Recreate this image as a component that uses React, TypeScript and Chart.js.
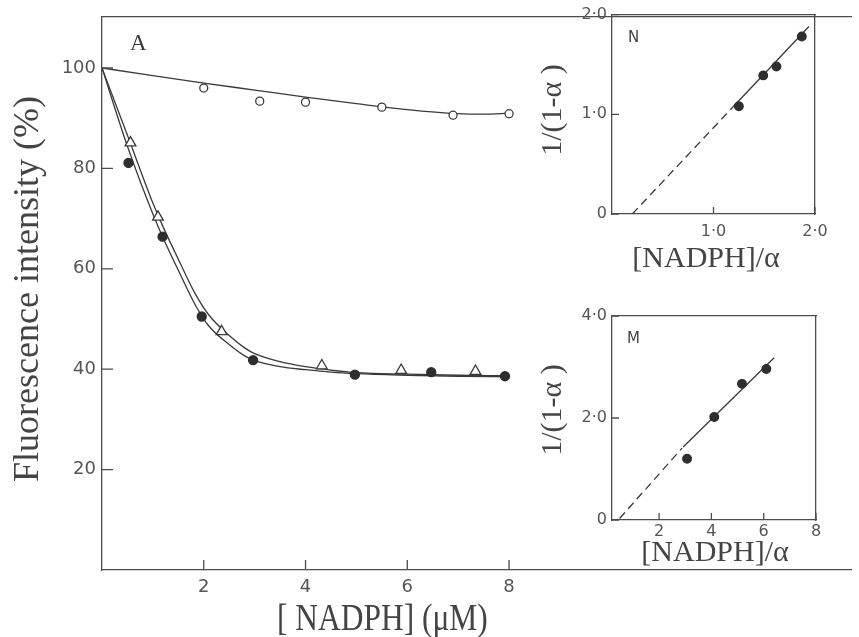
import React, { useEffect, useRef } from "react";
import { Chart, registerables } from "chart.js";

Chart.register(...registerables);

// ---- Panel A: fluorescence intensity vs [NADPH] ----
const mainXTicks = [2, 4, 6, 8];
const mainYTicks = [20, 40, 60, 80, 100];

// open circles and their fitted curve
const openX = [2.0, 3.1, 4.0, 5.5, 6.9, 8.0];
const openY = [96.0, 93.4, 93.2, 92.2, 90.6, 90.9];
const openFitX = [0, 1, 2, 3, 4, 5, 6, 7, 7.5, 8];
const openFitY = [100, 98.5, 97.0, 95.6, 94.2, 92.9, 91.7, 90.9, 90.8, 91.0];

// filled circles and their fitted curve
const filledX = [0.52, 1.19, 1.96, 2.97, 4.97, 6.47, 7.92];
const filledY = [81.1, 66.4, 50.5, 41.8, 38.9, 39.4, 38.6];
const filledFitX = [0, 0.5, 1.0, 1.19, 1.5, 1.85, 2.1, 2.5, 2.81, 3.0, 3.5, 4.0, 4.5, 5.0, 6.0, 7.0, 8.0];
const filledFitY = [100, 84.4, 70.9, 66.4, 59.7, 52.5, 48.6, 44.9, 42.6, 41.7, 40.5, 39.9, 39.4, 39.1, 38.8, 38.6, 38.5];

// open triangles and their fitted curve
const triX = [0.56, 1.1, 2.35, 4.32, 5.88, 7.34];
const triY = [85.1, 70.3, 47.5, 40.7, 39.8, 39.6];
const triFitX = [0, 0.5, 1.0, 1.19, 1.5, 1.85, 2.1, 2.5, 2.81, 3.0, 3.5, 4.0, 4.5, 5.0, 6.0, 7.0, 8.0];
const triFitY = [100, 86.6, 73.1, 68.6, 61.9, 54.7, 50.8, 46.7, 44.2, 43.1, 41.5, 40.5, 39.8, 39.3, 39.0, 38.8, 38.7];

// ---- Inset N: 1/(1-α) vs [NADPH]/α ----
const nXTicks = [1, 2];
const nYTicks = [0, 1, 2];
const nX = [1.25, 1.49, 1.62, 1.87];
const nY = [1.08, 1.39, 1.48, 1.78];
const nDashX = [0.2, 1.17];
const nDashY = [0.0, 1.05];
const nLineX = [1.17, 1.94];
const nLineY = [1.05, 1.88];

// ---- Inset M: 1/(1-α) vs [NADPH]/α ----
const mXTicks = [2, 4, 6, 8];
const mYTicks = [0, 2, 4];
const mX = [3.07, 4.11, 5.17, 6.1];
const mY = [1.2, 2.02, 2.67, 2.96];
const mDashX = [0.49, 2.88];
const mDashY = [0.03, 1.41];
const mLineX = [2.92, 6.4];
const mLineY = [1.43, 3.18];

const INK = "#3a3a3a";
const AXIS = "#4d4d4d";
const LABEL = "#555555";
const SERIF = "'Liberation Serif', 'Times New Roman', serif";
const SANS = "'DejaVu Sans', sans-serif";

const pts = (xs: number[], ys: number[]) => xs.map((x, i) => ({ x, y: ys[i] }));
const dotted = (v: number) => (v === 0 ? "0" : v.toFixed(1).replace(".", "\u00b7"));

type Caption = {
  text: string;
  x: number;
  y: number;
  font: string;
  align?: CanvasTextAlign;
  rotate?: boolean;
  sx?: number;
  color?: string;
};

// draws short tick marks pointing into the plot area
function inwardTicks(lengths: Record<string, number>) {
  return {
    id: "inwardTicks",
    afterDraw(chart: any) {
      const { ctx, chartArea } = chart;
      ctx.save();
      ctx.strokeStyle = AXIS;
      ctx.lineWidth = 1.3;
      ctx.beginPath();
      for (const id of Object.keys(lengths)) {
        const s = chart.scales[id];
        const len = lengths[id];
        for (const t of s.ticks) {
          const p = s.getPixelForValue(t.value);
          if (s.isHorizontal()) {
            ctx.moveTo(p, chartArea.bottom);
            ctx.lineTo(p, chartArea.bottom - len);
          } else {
            ctx.moveTo(chartArea.left, p);
            ctx.lineTo(chartArea.left + len, p);
          }
        }
      }
      ctx.stroke();
      ctx.restore();
    },
  };
}

// axis titles and panel letters
function captions(list: Caption[]) {
  return {
    id: "captions",
    afterDraw(chart: any) {
      const ctx: CanvasRenderingContext2D = chart.ctx;
      for (const c of list) {
        ctx.save();
        ctx.font = c.font;
        ctx.fillStyle = c.color || INK;
        ctx.textAlign = c.align || "left";
        ctx.textBaseline = "alphabetic";
        ctx.translate(c.x, c.y);
        if (c.rotate) ctx.rotate(-Math.PI / 2);
        if (c.sx) ctx.scale(c.sx, 1);
        ctx.fillText(c.text, 0, 0);
        ctx.restore();
      }
    },
  };
}

const fixedTicks = (vals: number[]) => (s: any) => {
  s.ticks = vals.map((v) => ({ value: v }));
};

function frameAxis(position: "top" | "right") {
  return {
    type: "linear",
    position,
    min: 0,
    max: 1,
    grid: { display: false, drawTicks: false },
    ticks: { display: false },
    border: { display: true, color: AXIS, width: 1.3 },
    afterFit: (s: any) => {
      if (position === "top") s.height = 0;
      else s.width = 0;
    },
  };
}

function fitLine(xs: number[], ys: number[], dash?: number[]) {
  return {
    data: pts(xs, ys),
    showLine: true,
    borderColor: INK,
    borderWidth: 1.3,
    borderDash: dash || [],
    pointRadius: 0,
    cubicInterpolationMode: "monotone",
    fill: false,
    order: 2,
  };
}

function markers(xs: number[], ys: number[], style: string, filled: boolean, r: number) {
  return {
    data: pts(xs, ys),
    showLine: false,
    pointStyle: style,
    pointRadius: r,
    pointBackgroundColor: filled ? "#2e2e2e" : "#ffffff",
    pointBorderColor: filled ? "#2e2e2e" : INK,
    pointBorderWidth: 1.3,
    order: 1,
  };
}

function mainConfig(): any {
  return {
    type: "scatter",
    data: {
      datasets: [
        fitLine(openFitX, openFitY),
        fitLine(filledFitX, filledFitY),
        fitLine(triFitX, triFitY),
        markers(openX, openY, "circle", false, 4),
        markers(filledX, filledY, "circle", true, 4.5),
        markers(triX, triY, "triangle", false, 6.2),
      ],
    },
    options: {
      responsive: false,
      animation: false,
      events: [],
      devicePixelRatio: 1,
      layout: { padding: { left: 0, right: 0, top: 15, bottom: 0 } },
      plugins: { legend: { display: false }, tooltip: { enabled: false } },
      scales: {
        x: {
          type: "linear",
          min: 0,
          max: 14.73,
          afterBuildTicks: fixedTicks(mainXTicks),
          afterFit: (s: any) => {
            s.height = 67;
          },
          grid: { display: false, drawTicks: false },
          border: { display: true, color: AXIS, width: 1.3 },
          ticks: { color: LABEL, font: { family: SANS, size: 18 }, padding: 7, maxRotation: 0, autoSkip: false },
        },
        y: {
          type: "linear",
          min: 0,
          max: 110.2,
          afterBuildTicks: fixedTicks(mainYTicks),
          afterFit: (s: any) => {
            s.width = 102;
          },
          grid: { display: false, drawTicks: false },
          border: { display: true, color: AXIS, width: 1.3 },
          ticks: { color: LABEL, font: { family: SANS, size: 18 }, padding: 6, autoSkip: false },
        },
        x2: frameAxis("top"),
      },
    },
    plugins: [
      inwardTicks({ x: 10, y: 11 }),
      captions([
        { text: "A", x: 130, y: 50, font: `23px ${SERIF}` },
        { text: "Fluorescence intensity (%)", x: 38, y: 289, font: `36px ${SERIF}`, align: "center", rotate: true, color: "#444" },
        { text: "[ NADPH] (\u03bcM)", x: 277, y: 630, font: `37px ${SERIF}`, sx: 0.85, color: "#444" },
      ]),
    ],
  };
}

function insetConfig(p: {
  xs: number[];
  ys: number[];
  dashX: number[];
  dashY: number[];
  lineX: number[];
  lineY: number[];
  xMin: number;
  xMax: number;
  yMax: number;
  xTicks: number[];
  yTicks: number[];
  xLabel: (v: number) => string;
  top: number;
  rightPad: number;
  bottomH: number;
  xPad: number;
  letter: string;
  letterPos: [number, number];
  yTitleY: number;
  xTitle: [number, number];
}): any {
  return {
    type: "scatter",
    data: {
      datasets: [
        fitLine(p.dashX, p.dashY, [8, 5]),
        fitLine(p.lineX, p.lineY),
        markers(p.xs, p.ys, "circle", true, 4.3),
      ],
    },
    options: {
      responsive: false,
      animation: false,
      events: [],
      devicePixelRatio: 1,
      layout: { padding: { left: 0, right: p.rightPad, top: p.top, bottom: 0 } },
      plugins: { legend: { display: false }, tooltip: { enabled: false } },
      scales: {
        x: {
          type: "linear",
          min: p.xMin,
          max: p.xMax,
          afterBuildTicks: fixedTicks(p.xTicks),
          afterFit: (s: any) => {
            s.height = p.bottomH;
          },
          grid: { display: false, drawTicks: false },
          border: { display: true, color: AXIS, width: 1.3 },
          ticks: {
            color: LABEL,
            font: { family: SANS, size: 16 },
            padding: p.xPad,
            maxRotation: 0,
            autoSkip: false,
            callback: (v: number) => p.xLabel(v),
          },
        },
        y: {
          type: "linear",
          min: 0,
          max: p.yMax,
          afterBuildTicks: fixedTicks(p.yTicks),
          afterFit: (s: any) => {
            s.width = 92;
          },
          grid: { display: false, drawTicks: false },
          border: { display: true, color: AXIS, width: 1.3 },
          ticks: {
            color: LABEL,
            font: { family: SANS, size: 16 },
            padding: 5,
            autoSkip: false,
            callback: (v: number) => dotted(v),
          },
        },
        x2: frameAxis("top"),
        y2: frameAxis("right"),
      },
    },
    plugins: [
      inwardTicks({ x: 7, y: 7 }),
      captions([
        { text: p.letter, x: p.letterPos[0], y: p.letterPos[1], font: `15px ${SANS}`, color: "#444" },
        { text: "1/(1-\u03b1 )", x: 41, y: p.yTitleY, font: `30px ${SERIF}`, align: "center", rotate: true, color: "#444" },
        { text: "[NADPH]/\u03b1", x: p.xTitle[0], y: p.xTitle[1], font: `30px ${SERIF}`, align: "center", color: "#444" },
      ]),
    ],
  };
}

export default function App() {
  const mainRef = useRef<HTMLCanvasElement>(null);
  const nRef = useRef<HTMLCanvasElement>(null);
  const mRef = useRef<HTMLCanvasElement>(null);

  useEffect(() => {
    const charts: Chart[] = [];
    if (mainRef.current) charts.push(new Chart(mainRef.current, mainConfig()));
    if (nRef.current)
      charts.push(
        new Chart(
          nRef.current,
          insetConfig({
            xs: nX,
            ys: nY,
            dashX: nDashX,
            dashY: nDashY,
            lineX: nLineX,
            lineY: nLineY,
            xMin: 0,
            xMax: 2,
            yMax: 2,
            xTicks: nXTicks,
            yTicks: nYTicks,
            xLabel: dotted,
            top: 14,
            rightPad: 44,
            bottomH: 76,
            xPad: 8,
            letter: "N",
            letterPos: [108, 42],
            yTitleY: 110,
            xTitle: [186, 267],
          })
        )
      );
    if (mRef.current)
      charts.push(
        new Chart(
          mRef.current,
          insetConfig({
            xs: mX,
            ys: mY,
            dashX: mDashX,
            dashY: mDashY,
            lineX: mLineX,
            lineY: mLineY,
            xMin: 0.2,
            xMax: 8,
            yMax: 4,
            xTicks: mXTicks,
            yTicks: mYTicks,
            xLabel: (v: number) => String(v),
            top: 26,
            rightPad: 43,
            bottomH: 117,
            xPad: 2,
            letter: "M",
            letterPos: [107, 53],
            yTitleY: 120,
            xTitle: [195, 271],
          })
        )
      );
    return () => charts.forEach((c) => c.destroy());
  }, []);

  const abs = (left: number, top: number): React.CSSProperties => ({
    position: "absolute",
    left,
    top,
    display: "block",
  });

  return (
    <div style={{ position: "absolute", left: 0, top: 0, width: 859, height: 637, background: "#ffffff", overflow: "hidden" }}>
      <canvas ref={mainRef} width={859} height={637} style={abs(0, 0)} />
      <canvas ref={nRef} width={339} height={290} style={abs(520, 0)} />
      <canvas ref={mRef} width={339} height={347} style={abs(520, 290)} />
    </div>
  );
}
